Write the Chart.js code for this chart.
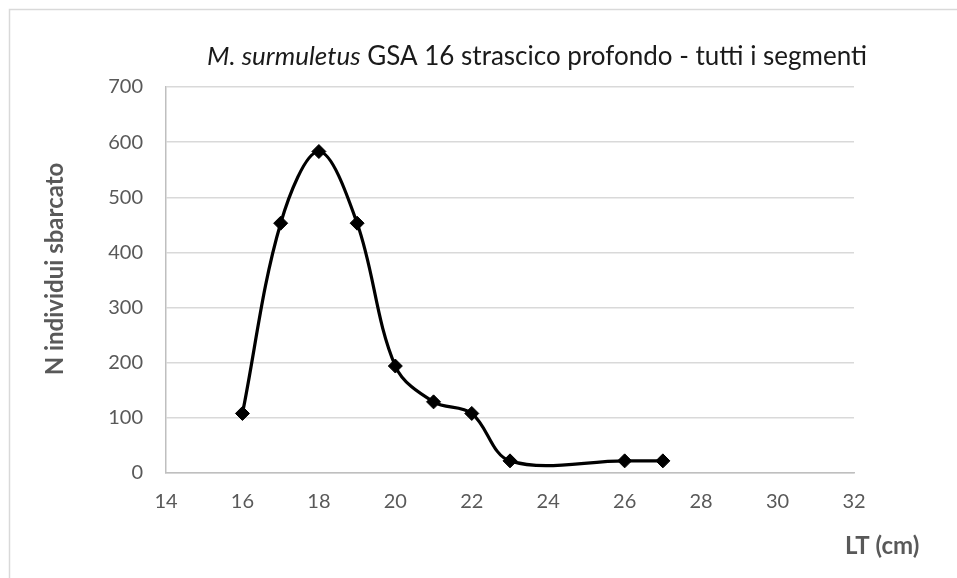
<!DOCTYPE html>
<html>
<head>
<meta charset="utf-8">
<script src="https://cdn.jsdelivr.net/npm/chart.js@4"></script>
<style>
  html, body { margin: 0; padding: 0; background: #ffffff; }
  #wrap { position: relative; width: 957px; height: 578px; }
  canvas { display: block; }
</style>
</head>
<body>
<div id="wrap"><canvas id="c" width="957" height="578"></canvas></div>
<script>
// ---- data ----
const lengthsCm = [16, 17, 18, 19, 20, 21, 22, 23, 26, 27];
const individuals = [108, 453, 583, 453, 194, 129, 108, 22, 22, 22];
const xTickValues = [14, 16, 18, 20, 22, 24, 26, 28, 30, 32];
const yTickValues = [0, 100, 200, 300, 400, 500, 600, 700];
const titleItalic = "M. surmuletus";
const titleRest = " GSA 16 strascico profondo - tutti i segmenti";
const xAxisTitle = "LT (cm)";
const yAxisTitle = "N individui sbarcato";

const points = lengthsCm.map((x, i) => ({ x: x, y: individuals[i] }));

const FONT = "Lato, 'Open Sans', sans-serif";

const framePlugin = {
  id: 'frame',
  beforeDraw(chart) {
    const ctx = chart.ctx;
    ctx.save();
    ctx.fillStyle = '#ffffff';
    ctx.fillRect(0, 0, chart.width, chart.height);
    ctx.strokeStyle = '#d9d9d9';
    ctx.lineWidth = 1.5;
    ctx.strokeRect(9.5, 9.5, chart.width + 20, chart.height + 20);
    ctx.restore();
  },
  afterDraw(chart) {
    const ctx = chart.ctx;
    ctx.save();
    // main title (mixed italic / regular)
    ctx.textBaseline = 'middle';
    ctx.fillStyle = '#1a1a1a';
    const fItal = "italic 26px " + FONT;
    const fReg = "26px " + FONT;
    ctx.font = fItal;
    const w1 = ctx.measureText(titleItalic).width;
    ctx.font = fReg;
    const w2 = ctx.measureText(titleRest).width;
    const endX = 867;
    const startX = endX - (w1 + w2);
    ctx.font = fItal;
    ctx.textAlign = 'left';
    ctx.fillText(titleItalic, startX, 57);
    ctx.font = fReg;
    ctx.fillText(titleRest, startX + w1, 57);

    // axis titles
    ctx.fillStyle = '#595959';
    ctx.font = "bold 24px " + FONT;
    ctx.textAlign = 'left';
    ctx.fillText(xAxisTitle, 845, 546);
    ctx.translate(55, 269);
    ctx.rotate(-Math.PI / 2);
    ctx.textAlign = 'center';
    ctx.fillText(yAxisTitle, 0, 0);
    ctx.restore();
  }
};

new Chart(document.getElementById('c'), {
  type: 'scatter',
  data: {
    datasets: [{
      data: points,
      showLine: true,
      borderColor: '#000000',
      borderWidth: 3.2,
      tension: 0.35,
      pointStyle: 'rectRot',
      pointRadius: 7,
      pointHoverRadius: 7,
      pointBackgroundColor: '#000000',
      pointBorderColor: '#000000',
      pointBorderWidth: 1
    }]
  },
  options: {
    responsive: false,
    animation: false,
    devicePixelRatio: 1,
    layout: { padding: { left: 0, right: 103, top: 87, bottom: 0 } },
    plugins: {
      legend: { display: false },
      title: { display: false },
      tooltip: { enabled: false }
    },
    scales: {
      x: {
        type: 'linear',
        min: 14,
        max: 32,
        afterBuildTicks(scale) { scale.ticks = xTickValues.map(v => ({ value: v })); },
        afterFit(scale) { scale.height = 105; },
        grid: { display: false, drawTicks: false },
        border: { display: true, color: '#bfbfbf', width: 1.5 },
        ticks: {
          padding: 17,
          color: '#595959',
          font: { family: FONT, size: 20 },
          maxRotation: 0,
          autoSkip: false
        }
      },
      y: {
        type: 'linear',
        min: 0,
        max: 700,
        afterBuildTicks(scale) { scale.ticks = yTickValues.map(v => ({ value: v })); },
        afterFit(scale) { scale.width = 166; },
        grid: { color: '#d9d9d9', lineWidth: 1.5, drawTicks: false },
        border: { display: true, color: '#bfbfbf', width: 1.5 },
        ticks: {
          padding: 23,
          color: '#595959',
          font: { family: FONT, size: 20 },
          autoSkip: false
        }
      }
    }
  },
  plugins: [framePlugin]
});
</script>
</body>
</html>
